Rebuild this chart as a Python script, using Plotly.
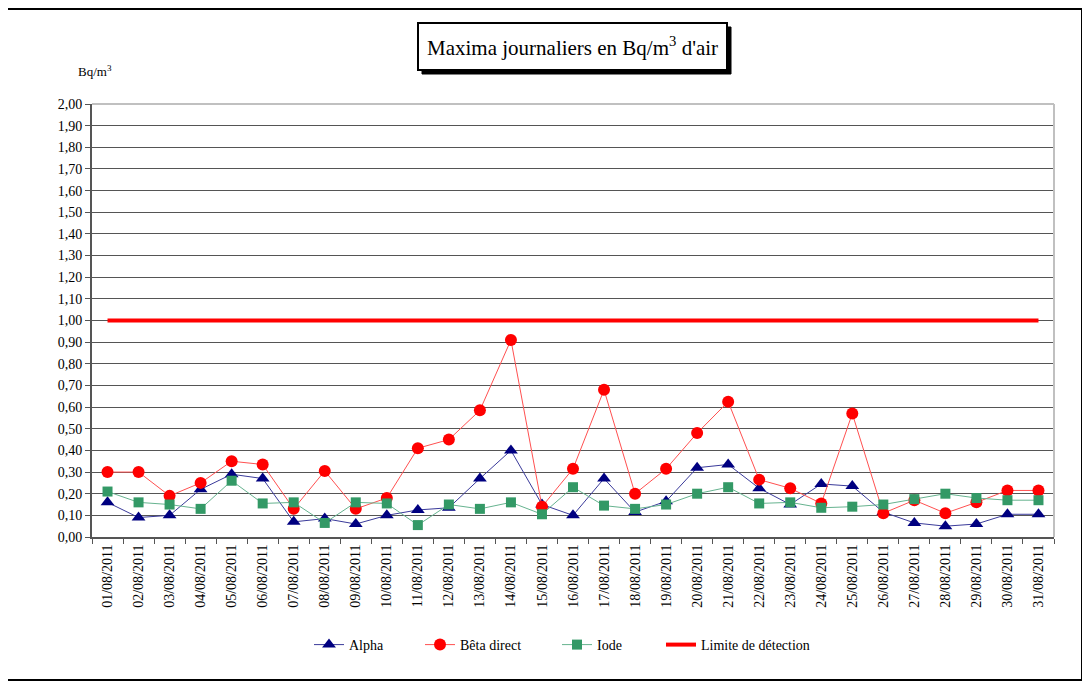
import plotly.graph_objects as go

dates = [f"{d:02d}/08/2011" for d in range(1, 32)]

alpha = [0.16, 0.09, 0.10, 0.22, 0.29, 0.27, 0.07, 0.085, 0.06, 0.10,
         0.125, 0.135, 0.27, 0.40, 0.15, 0.10, 0.27, 0.115, 0.165, 0.32,
         0.335, 0.225, 0.15, 0.245, 0.235, 0.115, 0.065, 0.05, 0.06, 0.105, 0.105]
beta = [0.30, 0.30, 0.19, 0.25, 0.35, 0.335, 0.13, 0.305, 0.13, 0.18,
        0.41, 0.45, 0.585, 0.91, 0.14, 0.315, 0.68, 0.20, 0.315, 0.48,
        0.625, 0.265, 0.225, 0.155, 0.57, 0.11, 0.17, 0.11, 0.16, 0.215, 0.215]
iode = [0.21, 0.16, 0.15, 0.13, 0.26, 0.155, 0.16, 0.065, 0.16, 0.155,
        0.055, 0.15, 0.13, 0.16, 0.105, 0.23, 0.145, 0.13, 0.15, 0.20,
        0.23, 0.155, 0.16, 0.135, 0.14, 0.15, 0.175, 0.20, 0.18, 0.17, 0.17]
limite = [1.0] * 31

FONT = "Liberation Serif"

# the page body adds an 8px offset; target coordinates are shifted accordingly
OFF = 8
W, H = 1090 - OFF, 682 - OFF
L, R, T, B = 92 - OFF, 1054 - OFF, 104 - OFF, 537 - OFF
pw, ph = R - L, B - T


def px(x):
    return (x - OFF - L) / pw


def py(y):
    return (B - (y - OFF)) / ph


fig = go.Figure()
fig.add_trace(go.Scatter(x=dates, y=alpha, name="Alpha", mode="lines+markers",
                         line=dict(color="#3a3a9a", width=1), legend="legend",
                         marker=dict(symbol="triangle-up", size=12, color="#000080")))
fig.add_trace(go.Scatter(x=dates, y=beta, name="Bêta direct", mode="lines+markers",
                         line=dict(color="#ff5050", width=1), legend="legend2",
                         marker=dict(symbol="circle", size=12, color="#ff0000")))
fig.add_trace(go.Scatter(x=dates, y=iode, name="Iode", mode="lines+markers",
                         line=dict(color="#66b38f", width=1), legend="legend3",
                         marker=dict(symbol="square", size=10, color="#339966")))
fig.add_trace(go.Scatter(x=dates, y=limite, name="Limite de détection", mode="lines",
                         line=dict(color="#ff0000", width=4), legend="legend4"))

shapes = [
    dict(type="rect", xref="paper", yref="paper", x0=px(5), x1=px(1082), y0=py(680), y1=py(9),
         line=dict(color="black", width=2), layer="below"),
    dict(type="rect", xref="paper", yref="paper", x0=px(422), x1=px(731), y0=py(74), y1=py(27),
         line=dict(color="black", width=1), fillcolor="black"),
    dict(type="rect", xref="paper", yref="paper", x0=px(418), x1=px(727), y0=py(70), y1=py(23),
         line=dict(color="black", width=2), fillcolor="white"),
    dict(type="line", xref="paper", yref="paper", x0=0, x1=1, y0=1, y1=1,
         line=dict(color="#c0c0c0", width=2)),
    dict(type="line", xref="paper", yref="paper", x0=1, x1=1, y0=0, y1=1,
         line=dict(color="#c0c0c0", width=2)),
]

annotations = [
    dict(text="Maxima journaliers en Bq/m<sup>3</sup> d'air", xref="paper", yref="paper",
         x=px(572), y=py(47), showarrow=False, font=dict(family=FONT, size=21, color="black"),
         xanchor="center", yanchor="middle"),
    dict(text="Bq/m<sup>3</sup>", xref="paper", yref="paper", x=px(95), y=py(71),
         showarrow=False, font=dict(family=FONT, size=13, color="black"),
         xanchor="center", yanchor="middle"),
]


def leg(xpos):
    return dict(orientation="h", x=px(xpos), xanchor="left", y=py(645), yanchor="middle",
                font=dict(family=FONT, size=14), itemwidth=30, bgcolor="rgba(0,0,0,0)")


fig.update_layout(
    width=W, height=H,
    margin=dict(l=L, r=W - R, t=T, b=H - B),
    paper_bgcolor="white", plot_bgcolor="white",
    separators=", ",
    font=dict(family=FONT, size=13, color="black"),
    shapes=shapes, annotations=annotations,
    showlegend=True,
    legend=leg(309), legend2=leg(420), legend3=leg(557), legend4=leg(661),
    xaxis=dict(type="category", tickangle=-90, showgrid=False, ticks="outside",
               tickson="boundaries", ticklen=5, tickcolor="#555", showline=True,
               linecolor="#555", linewidth=2, mirror=False,
               tickfont=dict(family=FONT, size=14), range=[-0.5, 30.5]),
    yaxis=dict(range=[0, 2.0], dtick=0.1, tickformat=".2f", showgrid=True,
               gridcolor="#555", gridwidth=1, ticks="outside", ticklen=5, tickcolor="#555",
               showline=True, linecolor="#555", linewidth=2, zeroline=False,
               tickfont=dict(family=FONT, size=14)),
)

fig.write_html("out.html")
